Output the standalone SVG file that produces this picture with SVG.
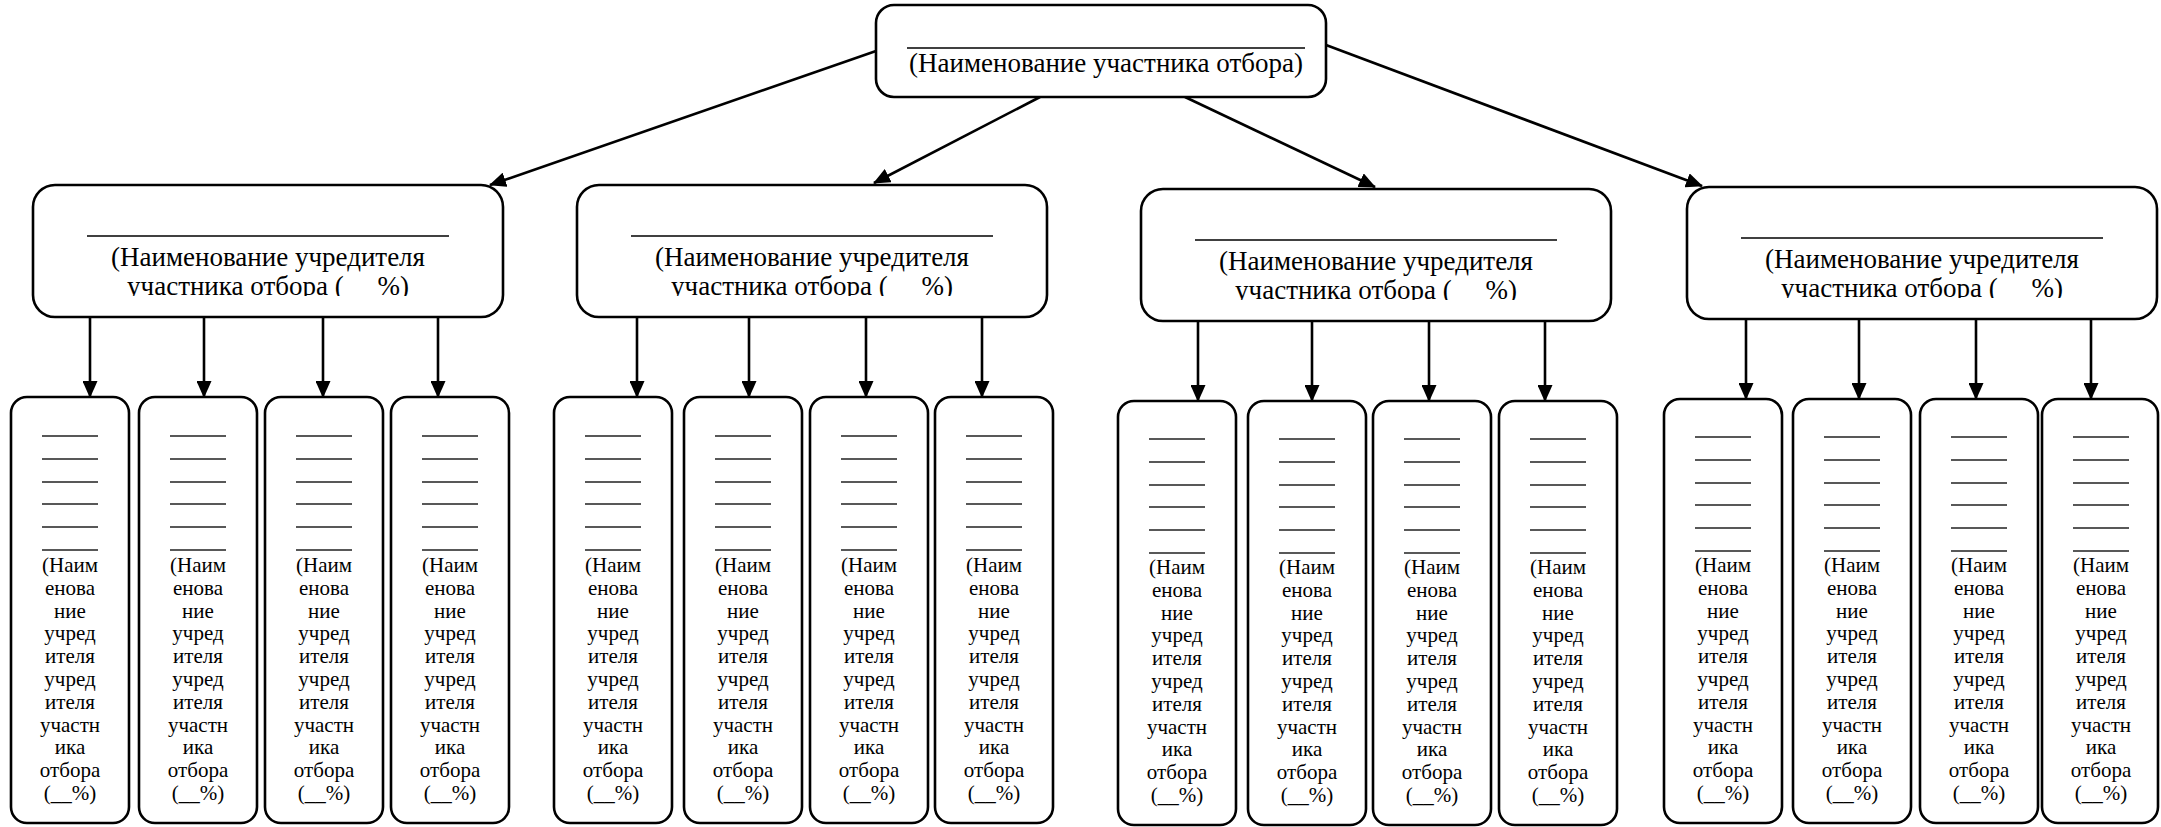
<svg xmlns="http://www.w3.org/2000/svg" width="2161" height="827" viewBox="0 0 2161 827">
<style>
.box{fill:#fff;stroke:#000;stroke-width:2.6}
.ul{stroke:#222;stroke-width:1.5;fill:none}
.hl{stroke:#000;stroke-width:1.6}
.tt{font-family:"Liberation Serif","Times New Roman",serif;font-size:27px;fill:#000;text-anchor:middle}
.bt{font-family:"Liberation Serif","Times New Roman",serif;font-size:21px;fill:#000;text-anchor:middle}
.cn{stroke:#000;stroke-width:2.6;fill:none;marker-end:url(#ah)}
</style>
<defs>
<marker id="ah" markerWidth="17" markerHeight="15" refX="16" refY="7.5" orient="auto" markerUnits="userSpaceOnUse"><path d="M0,0 L17,7.5 L0,15 z" fill="#000"/></marker>
<clipPath id="mc" clipPathUnits="userSpaceOnUse"><rect x="0" y="0" width="470" height="111"/></clipPath>
</defs>
<rect width="2161" height="827" fill="#fff"/>

<g id="connectors">
<line class="cn" x1="876" y1="51" x2="490" y2="185"/>
<line class="cn" x1="1040" y1="97" x2="874" y2="183"/>
<line class="cn" x1="1185" y1="97" x2="1375" y2="187"/>
<line class="cn" x1="1326" y1="45" x2="1702" y2="186"/>
<line class="cn" x1="90" y1="317" x2="90" y2="397"/>
<line class="cn" x1="204" y1="317" x2="204" y2="397"/>
<line class="cn" x1="323" y1="317" x2="323" y2="397"/>
<line class="cn" x1="438" y1="317" x2="438" y2="397"/>
<line class="cn" x1="637" y1="317" x2="637" y2="397"/>
<line class="cn" x1="749" y1="317" x2="749" y2="397"/>
<line class="cn" x1="866" y1="317" x2="866" y2="397"/>
<line class="cn" x1="982" y1="317" x2="982" y2="397"/>
<line class="cn" x1="1198" y1="321" x2="1198" y2="401"/>
<line class="cn" x1="1312" y1="321" x2="1312" y2="401"/>
<line class="cn" x1="1429" y1="321" x2="1429" y2="401"/>
<line class="cn" x1="1545" y1="321" x2="1545" y2="401"/>
<line class="cn" x1="1746" y1="319" x2="1746" y2="399"/>
<line class="cn" x1="1859" y1="319" x2="1859" y2="399"/>
<line class="cn" x1="1976" y1="319" x2="1976" y2="399"/>
<line class="cn" x1="2091" y1="319" x2="2091" y2="399"/>
</g>

<g id="top">
<rect class="box" x="876" y="5" width="450" height="92" rx="18"/>
<line class="hl" x1="907" y1="48" x2="1305" y2="48"/>
<text class="tt" x="1106" y="72">(Наименование участника отбора)</text>
</g>

<g id="m1" transform="translate(33,185)">
<rect class="box" width="470" height="132" rx="22"/>
<line class="hl" x1="54" y1="51" x2="416" y2="51"/>
<text class="tt" x="235" y="81">(Наименование учредителя</text>
<text class="tt" x="235" y="110" xml:space="preserve" clip-path="url(#mc)">участника отбора (     %)</text>
</g>
<g id="m2" transform="translate(577,185)">
<rect class="box" width="470" height="132" rx="22"/>
<line class="hl" x1="54" y1="51" x2="416" y2="51"/>
<text class="tt" x="235" y="81">(Наименование учредителя</text>
<text class="tt" x="235" y="110" xml:space="preserve" clip-path="url(#mc)">участника отбора (     %)</text>
</g>
<g id="m3" transform="translate(1141,189)">
<rect class="box" width="470" height="132" rx="22"/>
<line class="hl" x1="54" y1="51" x2="416" y2="51"/>
<text class="tt" x="235" y="81">(Наименование учредителя</text>
<text class="tt" x="235" y="110" xml:space="preserve" clip-path="url(#mc)">участника отбора (     %)</text>
</g>
<g id="m4" transform="translate(1687,187)">
<rect class="box" width="470" height="132" rx="22"/>
<line class="hl" x1="54" y1="51" x2="416" y2="51"/>
<text class="tt" x="235" y="81">(Наименование учредителя</text>
<text class="tt" x="235" y="110" xml:space="preserve" clip-path="url(#mc)">участника отбора (     %)</text>
</g>

<g id="b1-1" transform="translate(11,397)"><rect class="box" width="118" height="426" rx="16"/><path class="ul" d="M31,39h56M31,62h56M31,85h56M31,107h56M31,130h56M31,153h56"/><text class="bt"><tspan x="59" y="175">(Наим</tspan><tspan x="59" dy="22.8">енова</tspan><tspan x="59" dy="22.8">ние</tspan><tspan x="59" dy="22.8">учред</tspan><tspan x="59" dy="22.8">ителя</tspan><tspan x="59" dy="22.8">учред</tspan><tspan x="59" dy="22.8">ителя</tspan><tspan x="59" dy="22.8">участн</tspan><tspan x="59" dy="22.8">ика</tspan><tspan x="59" dy="22.8">отбора</tspan><tspan x="59" dy="22.8">(__%)</tspan></text></g>
<g id="b1-2" transform="translate(139,397)"><rect class="box" width="118" height="426" rx="16"/><path class="ul" d="M31,39h56M31,62h56M31,85h56M31,107h56M31,130h56M31,153h56"/><text class="bt"><tspan x="59" y="175">(Наим</tspan><tspan x="59" dy="22.8">енова</tspan><tspan x="59" dy="22.8">ние</tspan><tspan x="59" dy="22.8">учред</tspan><tspan x="59" dy="22.8">ителя</tspan><tspan x="59" dy="22.8">учред</tspan><tspan x="59" dy="22.8">ителя</tspan><tspan x="59" dy="22.8">участн</tspan><tspan x="59" dy="22.8">ика</tspan><tspan x="59" dy="22.8">отбора</tspan><tspan x="59" dy="22.8">(__%)</tspan></text></g>
<g id="b1-3" transform="translate(265,397)"><rect class="box" width="118" height="426" rx="16"/><path class="ul" d="M31,39h56M31,62h56M31,85h56M31,107h56M31,130h56M31,153h56"/><text class="bt"><tspan x="59" y="175">(Наим</tspan><tspan x="59" dy="22.8">енова</tspan><tspan x="59" dy="22.8">ние</tspan><tspan x="59" dy="22.8">учред</tspan><tspan x="59" dy="22.8">ителя</tspan><tspan x="59" dy="22.8">учред</tspan><tspan x="59" dy="22.8">ителя</tspan><tspan x="59" dy="22.8">участн</tspan><tspan x="59" dy="22.8">ика</tspan><tspan x="59" dy="22.8">отбора</tspan><tspan x="59" dy="22.8">(__%)</tspan></text></g>
<g id="b1-4" transform="translate(391,397)"><rect class="box" width="118" height="426" rx="16"/><path class="ul" d="M31,39h56M31,62h56M31,85h56M31,107h56M31,130h56M31,153h56"/><text class="bt"><tspan x="59" y="175">(Наим</tspan><tspan x="59" dy="22.8">енова</tspan><tspan x="59" dy="22.8">ние</tspan><tspan x="59" dy="22.8">учред</tspan><tspan x="59" dy="22.8">ителя</tspan><tspan x="59" dy="22.8">учред</tspan><tspan x="59" dy="22.8">ителя</tspan><tspan x="59" dy="22.8">участн</tspan><tspan x="59" dy="22.8">ика</tspan><tspan x="59" dy="22.8">отбора</tspan><tspan x="59" dy="22.8">(__%)</tspan></text></g>

<g id="b2-1" transform="translate(554,397)"><rect class="box" width="118" height="426" rx="16"/><path class="ul" d="M31,39h56M31,62h56M31,85h56M31,107h56M31,130h56M31,153h56"/><text class="bt"><tspan x="59" y="175">(Наим</tspan><tspan x="59" dy="22.8">енова</tspan><tspan x="59" dy="22.8">ние</tspan><tspan x="59" dy="22.8">учред</tspan><tspan x="59" dy="22.8">ителя</tspan><tspan x="59" dy="22.8">учред</tspan><tspan x="59" dy="22.8">ителя</tspan><tspan x="59" dy="22.8">участн</tspan><tspan x="59" dy="22.8">ика</tspan><tspan x="59" dy="22.8">отбора</tspan><tspan x="59" dy="22.8">(__%)</tspan></text></g>
<g id="b2-2" transform="translate(684,397)"><rect class="box" width="118" height="426" rx="16"/><path class="ul" d="M31,39h56M31,62h56M31,85h56M31,107h56M31,130h56M31,153h56"/><text class="bt"><tspan x="59" y="175">(Наим</tspan><tspan x="59" dy="22.8">енова</tspan><tspan x="59" dy="22.8">ние</tspan><tspan x="59" dy="22.8">учред</tspan><tspan x="59" dy="22.8">ителя</tspan><tspan x="59" dy="22.8">учред</tspan><tspan x="59" dy="22.8">ителя</tspan><tspan x="59" dy="22.8">участн</tspan><tspan x="59" dy="22.8">ика</tspan><tspan x="59" dy="22.8">отбора</tspan><tspan x="59" dy="22.8">(__%)</tspan></text></g>
<g id="b2-3" transform="translate(810,397)"><rect class="box" width="118" height="426" rx="16"/><path class="ul" d="M31,39h56M31,62h56M31,85h56M31,107h56M31,130h56M31,153h56"/><text class="bt"><tspan x="59" y="175">(Наим</tspan><tspan x="59" dy="22.8">енова</tspan><tspan x="59" dy="22.8">ние</tspan><tspan x="59" dy="22.8">учред</tspan><tspan x="59" dy="22.8">ителя</tspan><tspan x="59" dy="22.8">учред</tspan><tspan x="59" dy="22.8">ителя</tspan><tspan x="59" dy="22.8">участн</tspan><tspan x="59" dy="22.8">ика</tspan><tspan x="59" dy="22.8">отбора</tspan><tspan x="59" dy="22.8">(__%)</tspan></text></g>
<g id="b2-4" transform="translate(935,397)"><rect class="box" width="118" height="426" rx="16"/><path class="ul" d="M31,39h56M31,62h56M31,85h56M31,107h56M31,130h56M31,153h56"/><text class="bt"><tspan x="59" y="175">(Наим</tspan><tspan x="59" dy="22.8">енова</tspan><tspan x="59" dy="22.8">ние</tspan><tspan x="59" dy="22.8">учред</tspan><tspan x="59" dy="22.8">ителя</tspan><tspan x="59" dy="22.8">учред</tspan><tspan x="59" dy="22.8">ителя</tspan><tspan x="59" dy="22.8">участн</tspan><tspan x="59" dy="22.8">ика</tspan><tspan x="59" dy="22.8">отбора</tspan><tspan x="59" dy="22.8">(__%)</tspan></text></g>

<g id="b3-1" transform="translate(1118,401)"><rect class="box" width="118" height="424" rx="16"/><path class="ul" d="M31,38h56M31,61h56M31,84h56M31,106h56M31,129h56M31,152h56"/><text class="bt"><tspan x="59" y="173">(Наим</tspan><tspan x="59" dy="22.8">енова</tspan><tspan x="59" dy="22.8">ние</tspan><tspan x="59" dy="22.8">учред</tspan><tspan x="59" dy="22.8">ителя</tspan><tspan x="59" dy="22.8">учред</tspan><tspan x="59" dy="22.8">ителя</tspan><tspan x="59" dy="22.8">участн</tspan><tspan x="59" dy="22.8">ика</tspan><tspan x="59" dy="22.8">отбора</tspan><tspan x="59" dy="22.8">(__%)</tspan></text></g>
<g id="b3-2" transform="translate(1248,401)"><rect class="box" width="118" height="424" rx="16"/><path class="ul" d="M31,38h56M31,61h56M31,84h56M31,106h56M31,129h56M31,152h56"/><text class="bt"><tspan x="59" y="173">(Наим</tspan><tspan x="59" dy="22.8">енова</tspan><tspan x="59" dy="22.8">ние</tspan><tspan x="59" dy="22.8">учред</tspan><tspan x="59" dy="22.8">ителя</tspan><tspan x="59" dy="22.8">учред</tspan><tspan x="59" dy="22.8">ителя</tspan><tspan x="59" dy="22.8">участн</tspan><tspan x="59" dy="22.8">ика</tspan><tspan x="59" dy="22.8">отбора</tspan><tspan x="59" dy="22.8">(__%)</tspan></text></g>
<g id="b3-3" transform="translate(1373,401)"><rect class="box" width="118" height="424" rx="16"/><path class="ul" d="M31,38h56M31,61h56M31,84h56M31,106h56M31,129h56M31,152h56"/><text class="bt"><tspan x="59" y="173">(Наим</tspan><tspan x="59" dy="22.8">енова</tspan><tspan x="59" dy="22.8">ние</tspan><tspan x="59" dy="22.8">учред</tspan><tspan x="59" dy="22.8">ителя</tspan><tspan x="59" dy="22.8">учред</tspan><tspan x="59" dy="22.8">ителя</tspan><tspan x="59" dy="22.8">участн</tspan><tspan x="59" dy="22.8">ика</tspan><tspan x="59" dy="22.8">отбора</tspan><tspan x="59" dy="22.8">(__%)</tspan></text></g>
<g id="b3-4" transform="translate(1499,401)"><rect class="box" width="118" height="424" rx="16"/><path class="ul" d="M31,38h56M31,61h56M31,84h56M31,106h56M31,129h56M31,152h56"/><text class="bt"><tspan x="59" y="173">(Наим</tspan><tspan x="59" dy="22.8">енова</tspan><tspan x="59" dy="22.8">ние</tspan><tspan x="59" dy="22.8">учред</tspan><tspan x="59" dy="22.8">ителя</tspan><tspan x="59" dy="22.8">учред</tspan><tspan x="59" dy="22.8">ителя</tspan><tspan x="59" dy="22.8">участн</tspan><tspan x="59" dy="22.8">ика</tspan><tspan x="59" dy="22.8">отбора</tspan><tspan x="59" dy="22.8">(__%)</tspan></text></g>

<g id="b4-1" transform="translate(1664,399)"><rect class="box" width="118" height="424" rx="16"/><path class="ul" d="M31,38h56M31,61h56M31,84h56M31,106h56M31,129h56M31,152h56"/><text class="bt"><tspan x="59" y="173">(Наим</tspan><tspan x="59" dy="22.8">енова</tspan><tspan x="59" dy="22.8">ние</tspan><tspan x="59" dy="22.8">учред</tspan><tspan x="59" dy="22.8">ителя</tspan><tspan x="59" dy="22.8">учред</tspan><tspan x="59" dy="22.8">ителя</tspan><tspan x="59" dy="22.8">участн</tspan><tspan x="59" dy="22.8">ика</tspan><tspan x="59" dy="22.8">отбора</tspan><tspan x="59" dy="22.8">(__%)</tspan></text></g>
<g id="b4-2" transform="translate(1793,399)"><rect class="box" width="118" height="424" rx="16"/><path class="ul" d="M31,38h56M31,61h56M31,84h56M31,106h56M31,129h56M31,152h56"/><text class="bt"><tspan x="59" y="173">(Наим</tspan><tspan x="59" dy="22.8">енова</tspan><tspan x="59" dy="22.8">ние</tspan><tspan x="59" dy="22.8">учред</tspan><tspan x="59" dy="22.8">ителя</tspan><tspan x="59" dy="22.8">учред</tspan><tspan x="59" dy="22.8">ителя</tspan><tspan x="59" dy="22.8">участн</tspan><tspan x="59" dy="22.8">ика</tspan><tspan x="59" dy="22.8">отбора</tspan><tspan x="59" dy="22.8">(__%)</tspan></text></g>
<g id="b4-3" transform="translate(1920,399)"><rect class="box" width="118" height="424" rx="16"/><path class="ul" d="M31,38h56M31,61h56M31,84h56M31,106h56M31,129h56M31,152h56"/><text class="bt"><tspan x="59" y="173">(Наим</tspan><tspan x="59" dy="22.8">енова</tspan><tspan x="59" dy="22.8">ние</tspan><tspan x="59" dy="22.8">учред</tspan><tspan x="59" dy="22.8">ителя</tspan><tspan x="59" dy="22.8">учред</tspan><tspan x="59" dy="22.8">ителя</tspan><tspan x="59" dy="22.8">участн</tspan><tspan x="59" dy="22.8">ика</tspan><tspan x="59" dy="22.8">отбора</tspan><tspan x="59" dy="22.8">(__%)</tspan></text></g>
<g id="b4-4" transform="translate(2042,399)"><rect class="box" width="116" height="424" rx="16"/><path class="ul" d="M31,38h56M31,61h56M31,84h56M31,106h56M31,129h56M31,152h56"/><text class="bt"><tspan x="59" y="173">(Наим</tspan><tspan x="59" dy="22.8">енова</tspan><tspan x="59" dy="22.8">ние</tspan><tspan x="59" dy="22.8">учред</tspan><tspan x="59" dy="22.8">ителя</tspan><tspan x="59" dy="22.8">учред</tspan><tspan x="59" dy="22.8">ителя</tspan><tspan x="59" dy="22.8">участн</tspan><tspan x="59" dy="22.8">ика</tspan><tspan x="59" dy="22.8">отбора</tspan><tspan x="59" dy="22.8">(__%)</tspan></text></g>
</svg>
